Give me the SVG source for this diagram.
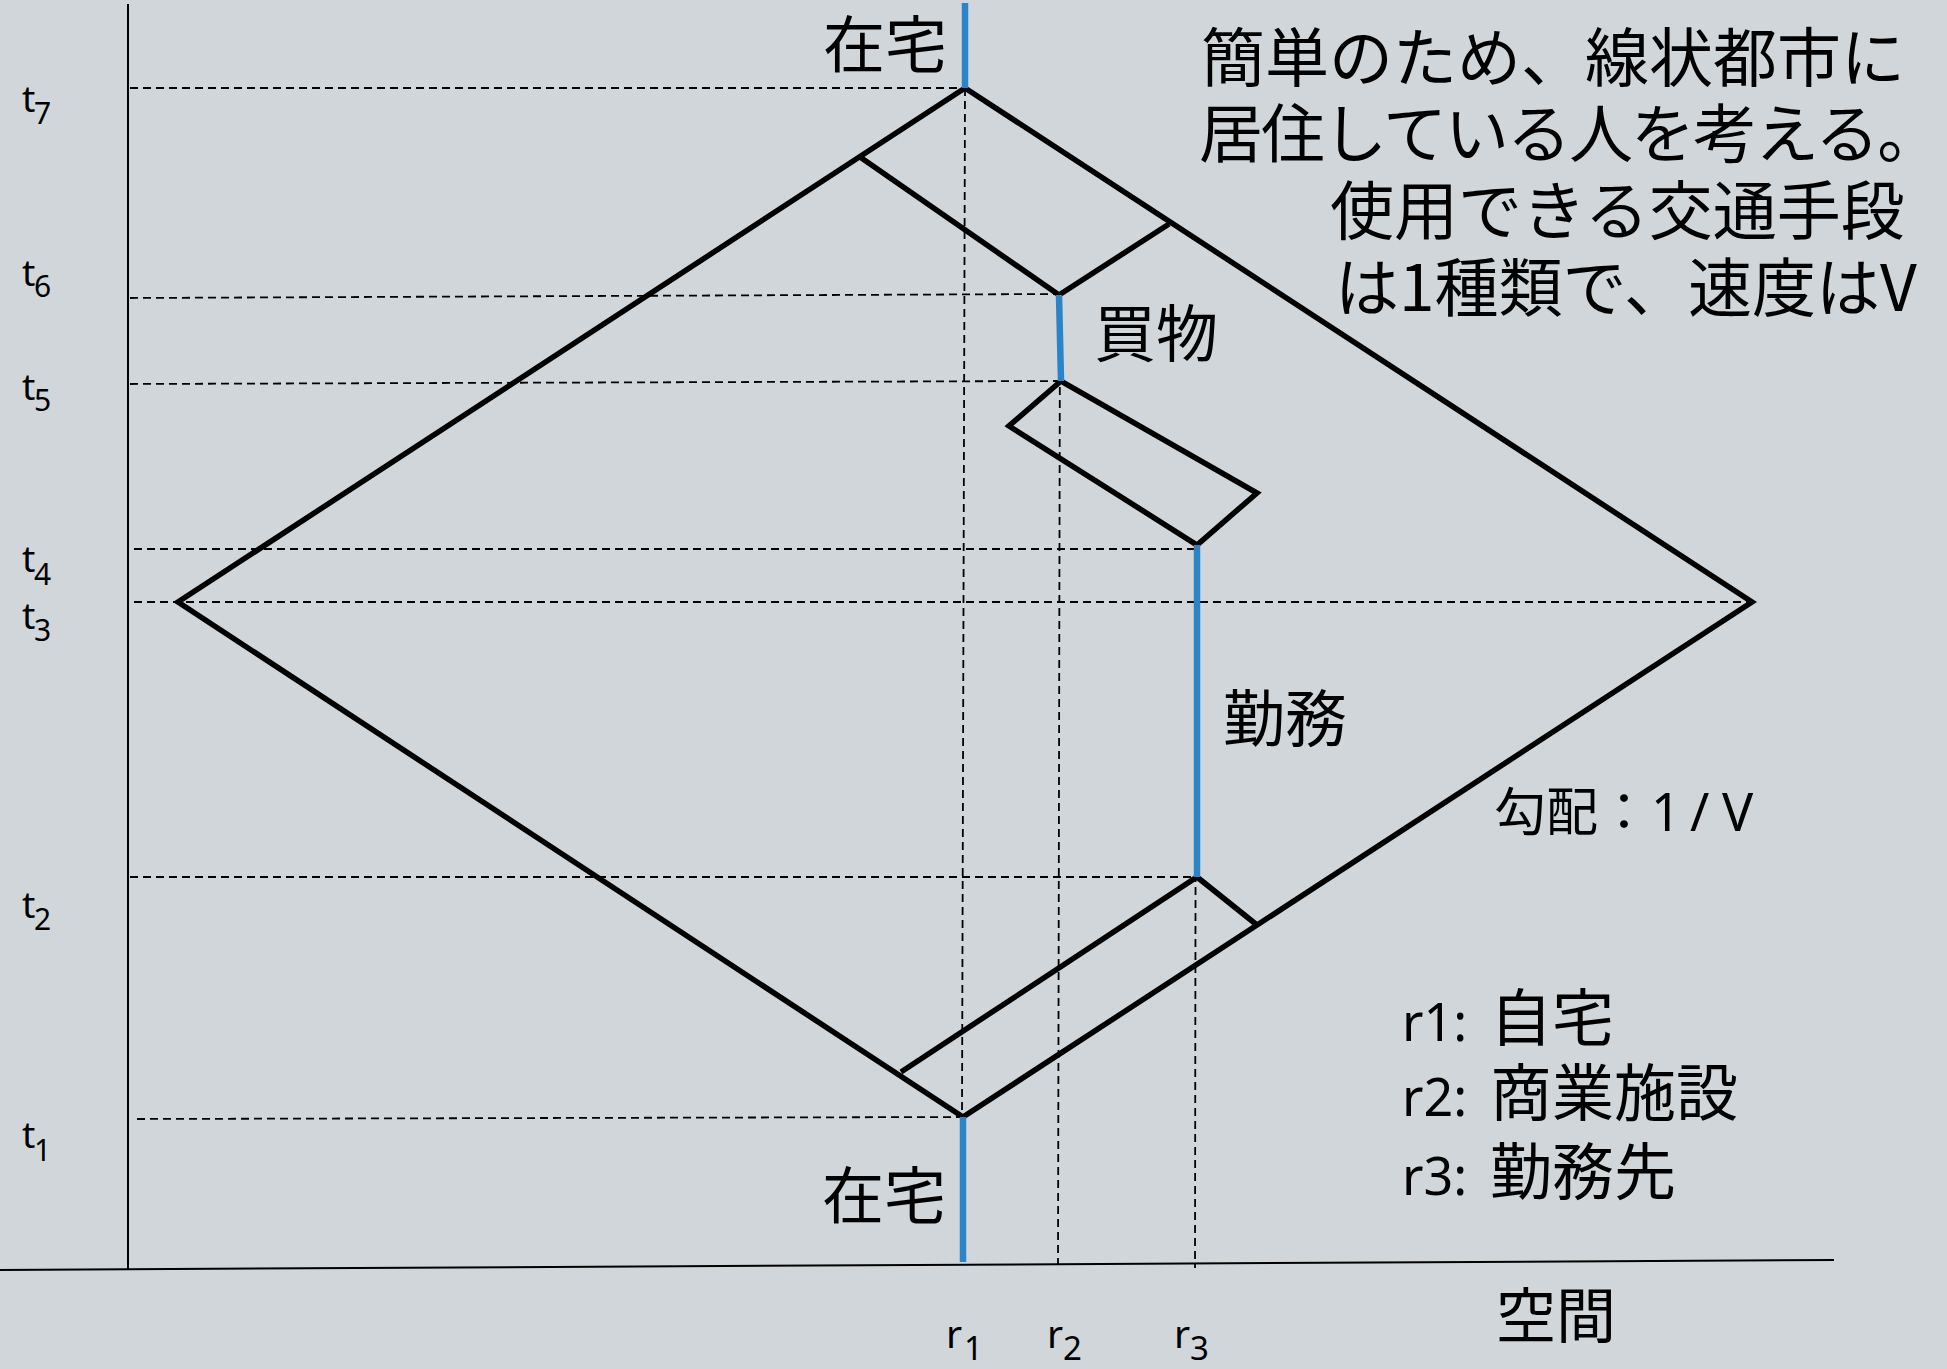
<svg xmlns="http://www.w3.org/2000/svg" width="1947" height="1369" viewBox="0 0 1947 1369">
<style>
.axis{stroke:#000;stroke-width:2;fill:none}
.dash{stroke:#000;stroke-width:1.8;stroke-dasharray:8 5;fill:none}
.path{stroke:#000;stroke-width:5.5;fill:none;stroke-linejoin:miter;stroke-linecap:butt}
.stay{stroke:#2b84c7;stroke-width:6.5;fill:none}
.jp{font-family:"Noto Sans CJK JP","Noto Sans",sans-serif;fill:#000}
.lat{font-family:"Noto Sans","Noto Sans CJK JP",sans-serif;fill:#000}
</style>
<rect x="0" y="0" width="1947" height="1369" fill="#d0d6d9"/>

<g id="axes">
<line class="axis" x1="128" y1="4" x2="128" y2="1269"/>
<line class="axis" x1="0" y1="1270" x2="1834" y2="1260"/>
</g>

<g id="guides">
<line class="dash" x1="130" y1="88" x2="965" y2="88"/>
<line class="dash" x1="130" y1="298" x2="1059" y2="294"/>
<line class="dash" x1="130" y1="384" x2="1060" y2="381"/>
<line class="dash" x1="134" y1="549" x2="1197" y2="549"/>
<line class="dash" x1="134" y1="602" x2="1752" y2="602"/>
<line class="dash" x1="130" y1="877" x2="1197" y2="877"/>
<line class="dash" x1="137" y1="1119" x2="963" y2="1117"/>
<line class="dash" x1="965" y1="88" x2="962" y2="1117"/>
<line class="dash" x1="1060" y1="296" x2="1058" y2="1264"/>
<line class="dash" x1="1196" y1="549" x2="1195" y2="1268"/>
</g>

<g id="connectors">
<polygon class="path" points="965,88 1752,602 963,1117 178,602"/>
<polyline class="path" points="860,157 1059,295 1169,224"/>
<polygon class="path" points="1061,381 1009,426 1197,545 1257,493"/>
<polyline class="path" points="901,1072 1197,877 1257,925"/>
</g>

<g id="stays">
<line class="stay" x1="965" y1="3" x2="965" y2="88"/>
<line class="stay" x1="1059" y1="295" x2="1061" y2="381"/>
<line class="stay" x1="1197" y1="545" x2="1197" y2="877"/>
<line class="stay" x1="963" y1="1117" x2="963" y2="1262"/>
</g>

<g id="activity-labels" class="jp" font-size="62">
<text id="home-top" x="947" y="68" text-anchor="end">在宅</text>
<text id="shopping" x="1094" y="357">買物</text>
<text id="work" x="1223" y="742">勤務</text>
<text id="home-bottom" x="946" y="1219" text-anchor="end">在宅</text>
</g>

<g id="time-labels" class="lat">
<text x="22" y="112" font-size="37">t<tspan x="34" y="124" font-size="30">7</tspan></text>
<text x="22" y="286" font-size="37">t<tspan x="34" y="297" font-size="30">6</tspan></text>
<text x="22" y="400" font-size="37">t<tspan x="34" y="411" font-size="30">5</tspan></text>
<text x="22" y="572" font-size="37">t<tspan x="34" y="585" font-size="30">4</tspan></text>
<text x="22" y="629" font-size="37">t<tspan x="34" y="641" font-size="30">3</tspan></text>
<text x="22" y="918" font-size="37">t<tspan x="34" y="930" font-size="30">2</tspan></text>
<text x="22" y="1148" font-size="37">t<tspan x="34" y="1161" font-size="30">1</tspan></text>
</g>

<g id="space-labels" class="lat">
<text x="946" y="1348" font-size="39">r<tspan x="964" y="1360" font-size="33">1</tspan></text>
<text x="1047" y="1348" font-size="39">r<tspan x="1063" y="1360" font-size="33">2</tspan></text>
<text x="1174" y="1348" font-size="39">r<tspan x="1190" y="1360" font-size="33">3</tspan></text>
<text class="jp" x="1496" y="1338" font-size="60">空間</text>
</g>

<g id="slope-label">
<text class="jp" x="1494" y="831" font-size="52">勾配：<tspan class="lat" x="1651">1</tspan><tspan class="lat" x="1690">/</tspan><tspan class="lat" x="1722">V</tspan></text>
</g>

<g id="legend">
<text x="1402" y="1041"><tspan class="lat" font-size="52">r1:</tspan><tspan class="jp" x="1490" font-size="62">自宅</tspan></text>
<text x="1402" y="1116"><tspan class="lat" font-size="52">r2:</tspan><tspan class="jp" x="1490" font-size="62">商業施設</tspan></text>
<text x="1402" y="1195"><tspan class="lat" font-size="52">r3:</tspan><tspan class="jp" x="1490" font-size="62">勤務先</tspan></text>
</g>

<g id="note" class="jp" font-size="64">
<text x="1201" y="81">簡単のため、線状都市に</text>
<text x="1199" y="157" letter-spacing="-2">居住している人を考える。</text>
<text x="1330" y="234">使用できる交通手段</text>
<text x="1335" y="311">は1種類で、速度はV</text>
</g>
</svg>
